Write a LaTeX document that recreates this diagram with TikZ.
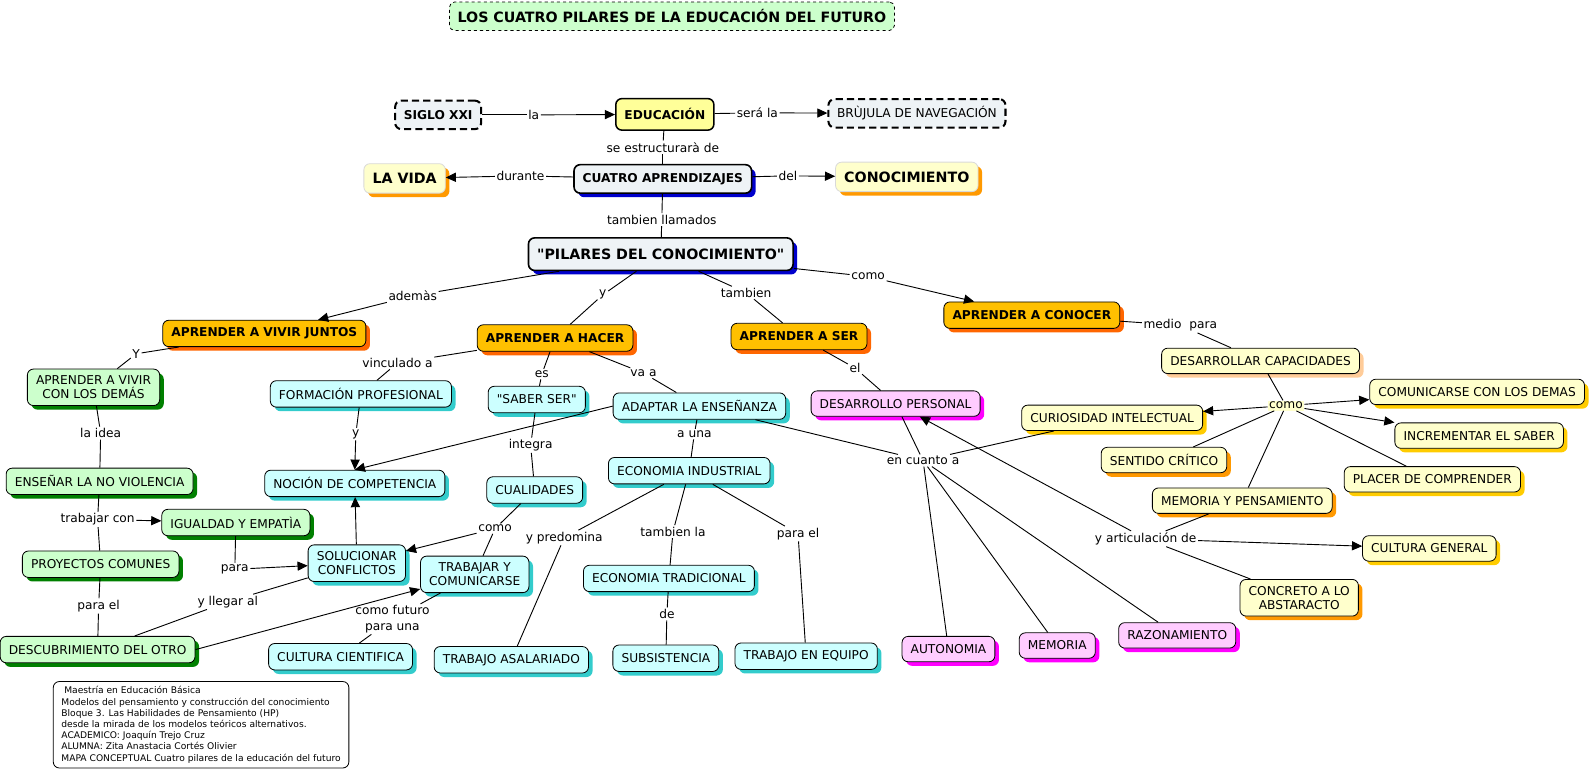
\documentclass[tikz,border=0pt]{standalone}
\usepackage{fontspec}
\setmainfont{DejaVu Sans}
\usetikzlibrary{arrows.meta,shadows}
\definecolor{cgris}{HTML}{EEF3F6}
\definecolor{cazul}{HTML}{0000CC}
\definecolor{camarillo}{HTML}{FFFF99}
\definecolor{ccrema}{HTML}{FFFFCC}
\definecolor{cdorado}{HTML}{FFCC00}
\definecolor{cnaranja}{HTML}{FFC000}
\definecolor{cnarsombra}{HTML}{FF6600}
\definecolor{cocre}{HTML}{FF9900}
\definecolor{cmelocoton}{HTML}{FFCC99}
\definecolor{ccian}{HTML}{CCFFFF}
\definecolor{ccianos}{HTML}{33CCCC}
\definecolor{cverde}{HTML}{CCFFCC}
\definecolor{cverdeos}{HTML}{008000}
\definecolor{crosa}{HTML}{FFCCFF}
\definecolor{crosaos}{HTML}{FF00FF}
\begin{document}
\begin{tikzpicture}[x=1pt,y=-1pt,
    box/.style={draw,rounded corners=6pt,line width=0.8pt,minimum height=26pt,
      inner xsep=8.5pt,align=center,font=\fontsize{12}{14}\selectfont},
    dos/.style={inner ysep=6.5pt},
    sombra/.style={drop shadow={shadow xshift=4pt,shadow yshift=-4pt,fill=#1,opacity=1}},
    negrita/.style={font=\fontsize{12}{14}\selectfont\bfseries},
    grande/.style={font=\fontsize{14}{16}\selectfont\bfseries},
    titulo/.style={box,grande,dashed,fill=cverde,rounded corners=5pt,minimum height=28pt,inner xsep=8pt},
    punteado/.style={box,fill=cgris,line width=2pt,dash pattern=on 7pt off 4pt,minimum height=28pt},
    educ/.style={box,negrita,fill=camarillo,line width=1.5pt,minimum height=31pt},
    gris/.style={box,negrita,fill=cgris,line width=1.6pt,sombra=cazul,minimum height=28pt},
    vida/.style={box,grande,draw=black!15,fill=ccrema,sombra=cocre,minimum height=29pt},
    pilar/.style={box,negrita,fill=cnaranja,sombra=cnarsombra},
    cian/.style={box,fill=ccian,sombra=ccianos},
    verde/.style={box,fill=cverde,sombra=cverdeos},
    rosa/.style={box,fill=crosa,sombra=crosaos,minimum height=25pt},
    crema/.style={box,fill=ccrema,sombra=#1,minimum height=25pt},
    lbl/.style={inner sep=1.5pt,align=center,font=\fontsize{12}{14}\selectfont},
    flecha/.style={-{Triangle[length=10pt,width=9pt]}}]
  \useasboundingbox (0,0) rectangle (1568,762);
  \path
    (661,16) node[titulo] (titulo) {LOS CUATRO PILARES DE LA EDUCACIÓN DEL FUTURO}
    (431,113) node[punteado,negrita] (siglo) {SIGLO XXI}
    (654,112.5) node[educ] (educacion) {EDUCACIÓN}
    (902,111.5) node[punteado] (brujula) {BRÙJULA DE NAVEGACIÓN}
    (652,176) node[gris] (cuatro) {CUATRO APRENDIZAJES}
    (398,175.5) node[vida] (vida) {LA VIDA}
    (892,174) node[vida] (conocimiento) {CONOCIMIENTO}
    (650,250) node[gris,grande,minimum height=32pt] (pilares) {\textquotedbl PILARES DEL CONOCIMIENTO\textquotedbl};
  \path
    (260,328) node[pilar] (vivir) {APRENDER A VIVIR JUNTOS}
    (546,332.5) node[pilar] (hacer) {APRENDER A HACER}
    (786,331) node[pilar] (ser) {APRENDER A SER}
    (1015,310) node[pilar] (conocer) {APRENDER A CONOCER};
  \path
    (92,381) node[verde,dos] (demas) {APRENDER A VIVIR\\CON LOS DEMÁS}
    (98,473.5) node[verde] (noviolencia) {ENSEÑAR LA NO VIOLENCIA}
    (232,514) node[verde] (igualdad) {IGUALDAD Y EMPATÌA}
    (99,555) node[verde] (proyectos) {PROYECTOS COMUNES}
    (96,639) node[verde] (otro) {DESCUBRIMIENTO DEL OTRO};
  \path
    (355,387.5) node[cian] (formacion) {FORMACIÓN PROFESIONAL}
    (349,475.5) node[cian] (competencia) {NOCIÓN DE COMPETENCIA}
    (351,554) node[cian,dos] (conflictos) {SOLUCIONAR\\CONFLICTOS}
    (528,393) node[cian] (saber) {\textquotedbl SABER SER\textquotedbl}
    (688,399.5) node[cian] (adaptar) {ADAPTAR LA ENSEÑANZA}
    (526,482) node[cian] (cualidades) {CUALIDADES}
    (467,565) node[cian,dos] (trabajar) {TRABAJAR Y\\COMUNICARSE}
    (335,646) node[cian] (cientifica) {CULTURA CIENTIFICA}
    (678,463) node[cian] (industrial) {ECONOMIA INDUSTRIAL}
    (503,649) node[cian] (asalariado) {TRABAJO ASALARIADO}
    (658,569) node[cian] (tradicional) {ECONOMIA TRADICIONAL}
    (655,647.5) node[cian] (subsistencia) {SUBSISTENCIA}
    (793,645.5) node[cian] (equipo) {TRABAJO EN EQUIPO};
  \path
    (881,397) node[rosa] (personal) {DESARROLLO PERSONAL}
    (933,638.5) node[rosa] (autonomia) {AUTONOMIA}
    (1040,635) node[rosa] (memoria) {MEMORIA}
    (1158,625) node[rosa] (razonamiento) {RAZONAMIENTO};
  \path
    (1240,355) node[crema=cmelocoton] (capacidades) {DESARROLLAR CAPACIDADES}
    (1453,385.5) node[crema=cdorado] (comunicar) {COMUNICARSE CON LOS DEMAS}
    (1455,428.5) node[crema=cdorado] (incrementar) {INCREMENTAR EL SABER}
    (1094,411) node[crema=cdorado] (curiosidad) {CURIOSIDAD INTELECTUAL}
    (1145,452.5) node[crema=cocre] (critico) {SENTIDO CRÍTICO}
    (1409,471.5) node[crema=cdorado] (placer) {PLACER DE COMPRENDER}
    (1222,492.5) node[crema=cocre] (pensamiento) {MEMORIA Y PENSAMIENTO}
    (1406,539.5) node[crema=cdorado] (general) {CULTURA GENERAL}
    (1278,588) node[crema=cocre,dos] (concreto) {CONCRETO A LO\\ABSTARACTO};
  \path
    (525,113) node[lbl] (la) {la}
    (745,111) node[lbl] (serala) {será la}
    (652,145) node[lbl] (estructura) {se estructurarà de}
    (512,173) node[lbl] (durante) {durante}
    (775,173) node[lbl] (del) {del}
    (651,216) node[lbl] (llamados) {tambien llamados}
    (406,291) node[lbl] (ademas) {ademàs}
    (593,290) node[lbl] (yhacer) {y}
    (734,288) node[lbl] (tambien) {tambien}
    (854,272) node[lbl] (como) {como}
    (134,348) node[lbl] (yvivir) {Y}
    (99,426) node[lbl] (idea) {la idea}
    (96,511) node[lbl] (trabajarcon) {trabajar con}
    (231,560) node[lbl] (para) {para}
    (97,596) node[lbl] (parael) {para el}
    (224,592) node[lbl] (llegar) {y llegar al}
    (391,357) node[lbl] (vinculado) {vinculado a}
    (350,427) node[lbl] (ycomp) {y}
    (533,368) node[lbl] (es) {es}
    (633,367) node[lbl] (vaa) {va a}
    (522,438) node[lbl] (integra) {integra}
    (487,520) node[lbl] (comocual) {como}
    (386,609) node[lbl,font=\fontsize{12}{15}\selectfont] (futuro) {como futuro\\para una}
    (683,427) node[lbl] (auna) {a una}
    (555,529) node[lbl] (predomina) {y predomina}
    (662,523) node[lbl] (tambienla) {tambien la}
    (656,604) node[lbl] (de) {de}
    (785,525) node[lbl] (paraequipo) {para el}
    (841,362) node[lbl] (el) {el}
    (908,453) node[lbl] (encuanto) {en cuanto a}
    (1161,320) node[lbl] (medio) {medio\ \ para}
    (1265,399) node[lbl,fill=ccrema] (comocap) {como}
    (1127,530) node[lbl] (articulacion) {y articulación de};
  \begin{scope}[-,line width=0.9pt]
    \draw (siglo) to (la);
    \draw (educacion) to (serala);
    \draw (educacion) to (estructura);
    \draw (estructura) to (cuatro);
    \draw (cuatro) to (durante);
    \draw (cuatro) to (del);
    \draw (cuatro) to (llamados);
    \draw (llamados) to (pilares);
    \draw (pilares) to (ademas);
    \draw (pilares) to (yhacer);
    \draw (yhacer) to (hacer);
    \draw (pilares) to (tambien);
    \draw (tambien) to (ser);
    \draw (pilares) to (como);
    \draw (vivir) to (yvivir);
    \draw (yvivir) to (demas);
    \draw (demas) to (idea);
    \draw (idea) to (noviolencia);
    \draw (noviolencia) to (trabajarcon);
    \draw (trabajarcon) to (proyectos);
    \draw (igualdad) to (para);
    \draw (proyectos) to (parael);
    \draw (parael) to (otro);
    \draw (otro) to (llegar);
    \draw (llegar) to (conflictos);
    \draw (hacer) to (vinculado);
    \draw (vinculado) to (formacion);
    \draw (formacion) to (ycomp);
    \draw (hacer) to (es);
    \draw (es) to (saber);
    \draw (hacer) to (vaa);
    \draw (vaa) to (adaptar);
    \draw (saber) to (integra);
    \draw (integra) to (cualidades);
    \draw (cualidades) to (comocual);
    \draw (comocual) to (trabajar);
    \draw (trabajar) to (futuro);
    \draw (futuro) to (cientifica);
    \draw (adaptar) to (auna);
    \draw (auna) to (industrial);
    \draw (industrial) to (predomina);
    \draw (predomina) to (asalariado);
    \draw (industrial) to (tambienla);
    \draw (tambienla) to (tradicional);
    \draw (tradicional) to (de);
    \draw (de) to (subsistencia);
    \draw (industrial) to (paraequipo);
    \draw (paraequipo) to (equipo);
    \draw (ser) to (el);
    \draw (el) to (personal);
    \draw (adaptar) to (encuanto);
    \draw (personal) to (encuanto);
    \draw (encuanto) to (curiosidad);
    \draw (encuanto) to (autonomia);
    \draw (encuanto) to (memoria);
    \draw (encuanto) to (razonamiento);
    \draw (conocer) to (medio);
    \draw (medio) to (capacidades);
    \draw (capacidades) to (comocap);
    \draw (comocap) to (critico);
    \draw (comocap) to (placer);
    \draw (comocap) to (pensamiento);
    \draw (pensamiento) to (articulacion);
    \draw (articulacion) to (concreto);
  \end{scope}
  \begin{scope}[flecha,line width=0.9pt]
    \draw (la) to (educacion);
    \draw (serala) to (brujula);
    \draw (durante) to (vida);
    \draw (del) to (conocimiento);
    \draw (ademas) to (vivir);
    \draw (como) to (conocer);
    \draw (trabajarcon) to (igualdad);
    \draw (para) to (conflictos);
    \draw (otro.east) to (trabajar);
    \draw (ycomp) to (competencia.north);
    \draw (adaptar.west) to (competencia.north);
    \draw (conflictos) to (competencia);
    \draw (comocual) to (conflictos);
    \draw (comocap) to (comunicar);
    \draw (comocap) to (incrementar);
    \draw (comocap) to (curiosidad);
    \draw (articulacion) to (general);
    \draw (articulacion) to (personal);
  \end{scope}
  \node[draw,rounded corners=6pt,line width=0.8pt,anchor=north west,align=left,
    inner xsep=8pt,inner ysep=5pt,font=\fontsize{9}{11}\selectfont] (info) at (52,670)
    {\ Maestría en Educación Básica\\
     Modelos del pensamiento y construcción del conocimiento\\
     Bloque 3. Las Habilidades de Pensamiento (HP)\\
     desde la mirada de los modelos teóricos alternativos.\\
     ACADEMICO: Joaquín Trejo Cruz\\
     ALUMNA: Zita Anastacia Cortés Olivier\\
     MAPA CONCEPTUAL Cuatro pilares de la educación del futuro};
\end{tikzpicture}
\end{document}
